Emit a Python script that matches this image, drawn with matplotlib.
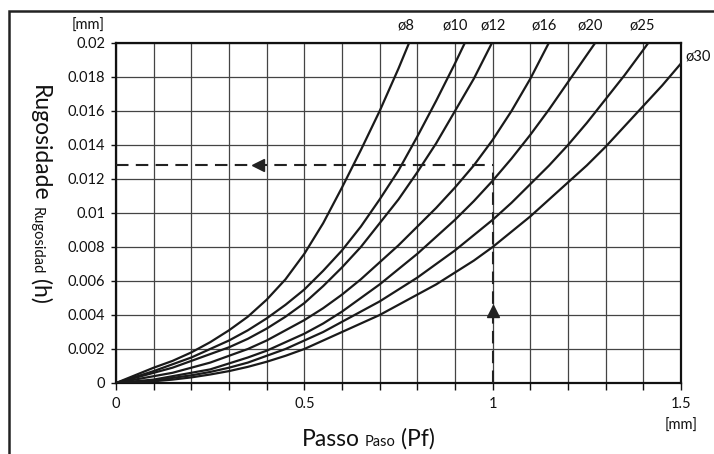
import numpy as np
import matplotlib
matplotlib.use("Agg")
import matplotlib.pyplot as plt
import matplotlib.transforms as mtransforms
from matplotlib.patches import Rectangle

plt.rcParams["font.family"] = ["Lato", "DejaVu Sans"]

# scallop height h [mm] vs step-over Pf [mm], one series per tool diameter
pf_8 = [0, 0.05, 0.1, 0.15, 0.2, 0.25, 0.3, 0.35, 0.4, 0.45, 0.5, 0.55, 0.6, 0.65, 0.7, 0.75, 0.778]
h_8 = [0, 0.00045, 0.0009, 0.0013, 0.0018, 0.0024, 0.0031, 0.0039, 0.0049, 0.0061, 0.0076,
       0.0094, 0.0115, 0.0137, 0.0160, 0.0185, 0.0200]

pf_10 = [0, 0.05, 0.1, 0.15, 0.2, 0.25, 0.3, 0.35, 0.4, 0.45, 0.5, 0.55, 0.6, 0.65, 0.7, 0.75,
         0.8, 0.85, 0.9, 0.926]
h_10 = [0, 0.00035, 0.0007, 0.0011, 0.0015, 0.0020, 0.0025, 0.0031, 0.0038, 0.0046, 0.0055,
        0.0066, 0.0078, 0.0092, 0.0108, 0.0125, 0.0145, 0.0166, 0.0188, 0.0200]

pf_12 = [0, 0.05, 0.1, 0.15, 0.2, 0.25, 0.3, 0.35, 0.4, 0.45, 0.5, 0.55, 0.6, 0.65, 0.7, 0.75,
         0.8, 0.85, 0.9, 0.95, 0.998]
h_12 = [0, 0.0003, 0.0006, 0.0009, 0.0013, 0.0017, 0.0021, 0.0026, 0.0032, 0.0039, 0.0047,
        0.0057, 0.0068, 0.0080, 0.0094, 0.0108, 0.0124, 0.0141, 0.0160, 0.0179, 0.0200]

pf_16 = [0, 0.05, 0.1, 0.15, 0.2, 0.25, 0.3, 0.35, 0.4, 0.45, 0.5, 0.55, 0.6, 0.65, 0.7, 0.75,
         0.8, 0.85, 0.9, 0.95, 1.0, 1.05, 1.1, 1.149]
h_16 = [0, 0.0002, 0.0004, 0.0006, 0.0009, 0.0012, 0.0016, 0.0020, 0.0025, 0.0031, 0.0037,
        0.0044, 0.0052, 0.0061, 0.0071, 0.0081, 0.0092, 0.0103, 0.0115, 0.0128, 0.0143,
        0.0160, 0.0179, 0.0200]

pf_20 = [0, 0.05, 0.1, 0.15, 0.2, 0.25, 0.3, 0.35, 0.4, 0.45, 0.5, 0.55, 0.6, 0.65, 0.7, 0.75,
         0.8, 0.85, 0.9, 0.95, 1.0, 1.05, 1.1, 1.15, 1.2, 1.25, 1.272]
h_20 = [0, 0.0001, 0.0002, 0.0004, 0.0006, 0.0008, 0.00115, 0.0015, 0.0019, 0.0024, 0.0029,
        0.0035, 0.0042, 0.0050, 0.0058, 0.0067, 0.0076, 0.0086, 0.0096, 0.0107, 0.0119,
        0.0132, 0.0146, 0.0161, 0.0177, 0.0193, 0.0200]

pf_25 = [0, 0.05, 0.1, 0.15, 0.2, 0.25, 0.3, 0.35, 0.4, 0.45, 0.5, 0.55, 0.6, 0.65, 0.7, 0.75,
         0.8, 0.85, 0.9, 0.95, 1.0, 1.05, 1.1, 1.15, 1.2, 1.25, 1.3, 1.35, 1.4, 1.413]
h_25 = [0, 0.00005, 0.00015, 0.0003, 0.00045, 0.00065, 0.0009, 0.0012, 0.0016, 0.0020, 0.0025,
        0.0030, 0.0036, 0.0042, 0.0048, 0.0055, 0.0062, 0.0070, 0.0078, 0.0087, 0.0096,
        0.0106, 0.0117, 0.0128, 0.0140, 0.0153, 0.0167, 0.0181, 0.0196, 0.0200]

pf_30 = [0, 0.05, 0.1, 0.15, 0.2, 0.25, 0.3, 0.35, 0.4, 0.45, 0.5, 0.55, 0.6, 0.65, 0.7, 0.75,
         0.8, 0.85, 0.9, 0.95, 1.0, 1.05, 1.1, 1.15, 1.2, 1.25, 1.3, 1.35, 1.4, 1.45, 1.5]
h_30 = [0, 0.00003, 0.0001, 0.0002, 0.00033, 0.0005, 0.0007, 0.00095, 0.00125, 0.0016, 0.0020,
        0.0025, 0.0030, 0.0035, 0.0040, 0.0046, 0.0052, 0.0058, 0.0065, 0.0072, 0.0080,
        0.0089, 0.0098, 0.0108, 0.0118, 0.0128, 0.0139, 0.0151, 0.0163, 0.0175, 0.0188]

curves = [(pf_8, h_8), (pf_10, h_10), (pf_12, h_12), (pf_16, h_16),
          (pf_20, h_20), (pf_25, h_25), (pf_30, h_30)]
names = ["ø8", "ø10", "ø12", "ø16", "ø20", "ø25", "ø30"]

# worked example: Pf = 1 mm -> h ~ 0.0128 mm
ex_pf = 1.0
ex_h = 0.01282

x_ticks = np.arange(0, 1.51, 0.1)
x_ticklabels = ["0", "", "", "", "", "0.5", "", "", "", "", "1", "", "", "", "", "1.5"]
y_ticks = np.arange(0, 0.0201, 0.002)
y_ticklabels = ["0", "0.002", "0.004", "0.006", "0.008", "0.01",
                "0.012", "0.014", "0.016", "0.018", "0.02"]

W, H = 714, 454
fig = plt.figure(figsize=(W / 100, H / 100), dpi=100)
ax = fig.add_axes([116 / W, 1 - 383 / H, 565 / W, 340 / H])

ax.set_xlim(0, 1.5)
ax.set_ylim(0, 0.02)
ax.set_xticks(x_ticks)
ax.set_xticklabels(x_ticklabels)
ax.set_yticks(y_ticks)
ax.set_yticklabels(y_ticklabels)
ax.tick_params(axis="x", direction="out", length=5, width=1.0, pad=5,
               labelsize=10.5, colors="#111")
ax.tick_params(axis="y", direction="out", length=3.8, width=1.0, pad=4,
               labelsize=10.5, colors="#111")
for s in ax.spines.values():
    s.set_linewidth(1.6)
    s.set_color("#111")
ax.grid(True, color="#444", linewidth=0.9)
ax.set_axisbelow(True)

for pf, h in curves:
    ax.plot(pf, h, color="#1a1a1a", linewidth=1.6, solid_capstyle="butt", zorder=3)

# dashed reading guide with arrows
dash = (0, (6, 3.5))
ax.plot([0, ex_pf], [ex_h, ex_h], color="#222", linewidth=1.5, linestyle=dash, zorder=4)
ax.plot([ex_pf, ex_pf], [0, ex_h], color="#222", linewidth=1.5, linestyle=dash, zorder=4)
ax.plot([0.377], [ex_h], marker="<", markersize=8.5, color="#222", zorder=5)
ax.plot([ex_pf], [0.00426], marker="^", markersize=8.5, color="#222", zorder=5)

# diameter labels above the frame
label_x = [0.77, 0.90, 1.0, 1.136, 1.258, 1.396]
top = mtransforms.blended_transform_factory(ax.transData, ax.transAxes)
for x, n in zip(label_x, names[:-1]):
    ax.text(x, 1.05, n, transform=top, ha="center", va="center", fontsize=10.5, color="#111")
ax.text(1.513, 0.01918, names[-1], ha="left", va="center", fontsize=10.5,
        color="#111", clip_on=False)

# unit labels
ax.text(1.5, -0.126, "[mm]", transform=top, ha="center", va="center", fontsize=10.5, color="#111")
fig.text(105 / W, 1 - 26 / H, "[mm]", ha="right", va="center", fontsize=10.5, color="#111")

# figure frame
fig.patches.append(Rectangle((9 / W, -0.05), 1.1, 1.05 - 11 / H, transform=fig.transFigure,
                             fill=False, edgecolor="#222", linewidth=1.8))

# axis titles with mixed font sizes
fig.canvas.draw()
r = fig.canvas.get_renderer()
ident = mtransforms.IdentityTransform()

x = 302
for s, size in [("Passo", 16.5), ("Paso", 10.5), ("(Pf)", 16.5)]:
    t = fig.text(x, H - 446, s, fontsize=size, ha="left", va="baseline",
                 transform=ident, color="#111")
    x = t.get_window_extent(r).x1 + 5

y = H - 85
for s, size in [("Rugosidade", 16.5), ("Rugosidad", 10.5), ("(h)", 16.5)]:
    t = fig.text(33, y, s, fontsize=size, rotation=270, rotation_mode="anchor",
                 ha="left", va="baseline", transform=ident, color="#111")
    y = t.get_window_extent(r).y0 - 5

fig.savefig("out.png", dpi=100)
